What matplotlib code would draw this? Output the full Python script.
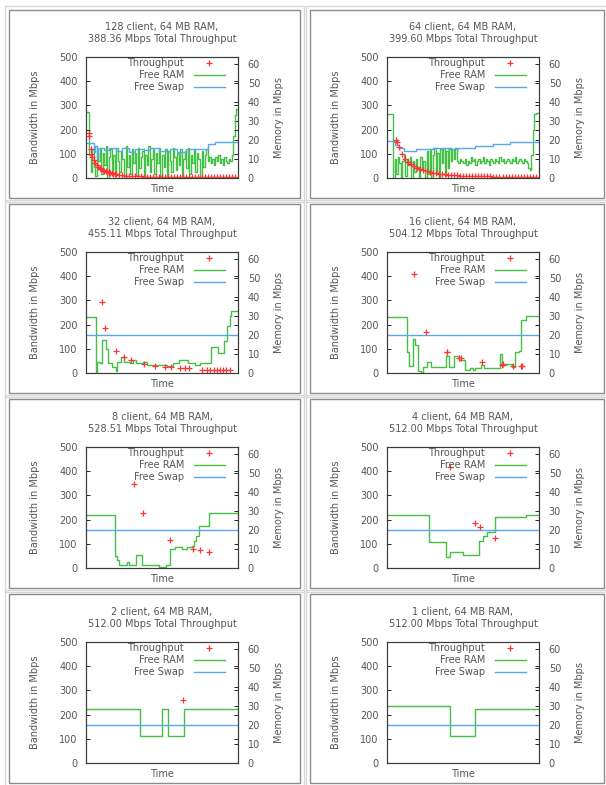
import numpy as np
import matplotlib
matplotlib.use("Agg")
import matplotlib.pyplot as plt
from matplotlib.patches import Rectangle

# ── data ──────────────────────────────────────────────────────────────────────
CLIENTS    = [128, 64, 32, 16, 8, 4, 2, 1]
TOTAL_MBPS = ["388.36", "399.60", "455.11", "504.12", "528.51", "512.00", "512.00", "512.00"]

# 128 clients: free RAM sampled once per time step (MB)
RAM_128 = [34.5, 34.5, 12, 3, 15, 6, 1, 14, 9, 16,
           2, 13, 7, 17, 0, 11, 15, 4, 12, 1,
           16, 9, 3, 14, 10, 0, 17, 6, 12, 2,
           15, 8, 13, 1, 16, 5, 11, 14, 0, 12,
           7, 17, 3, 10, 15, 2, 13, 8, 16, 1,
           12, 6, 15, 0, 14, 9, 3, 16, 11, 4,
           13, 7, 15, 1, 10, 14, 5, 16, 2, 12,
           8, 15, 3, 13, 10, 0, 14, 6, 12, 15,
           9, 11, 8, 10, 7, 11, 9, 12, 8, 10,
           7, 11, 9, 8, 10, 9, 12, 22, 33, 36,
           36]
SWAP_128_T = [0, 5, 6, 7, 8, 12, 15, 20, 24, 28, 32, 38, 42, 48, 55, 60, 66, 72, 80, 85, 100]
SWAP_128_V = [18.6, 13.5, 17, 11, 16, 14.5, 15.5, 14, 15.5, 13.5, 15, 14.5, 15.5, 14, 15,
              13.8, 15.2, 15, 17.8, 18.7, 18.7]
THR_128_T = [2.2, 2.2, 3, 3.5, 4,
             5, 6, 7, 8, 9, 10, 11, 12, 13, 14, 15, 16, 17, 18, 19, 20,
             22, 24, 26, 28, 30, 32, 34, 36, 38, 40, 42, 44, 46, 48, 50, 52, 54, 56, 58, 60,
             62, 64, 66, 68, 70, 72, 74, 76, 78, 80, 82, 84, 86, 88, 90, 92, 94, 96, 98]
THR_128_V = [186, 172, 120, 98, 88,
             76, 62, 54, 47, 41, 37, 33, 30, 28, 26, 24, 22, 20, 18, 17, 16,
             14, 12, 10, 9, 8, 8, 7, 7, 6, 6, 6, 5, 5, 5, 5, 5, 5, 5, 5, 4,
             4, 4, 4, 4, 4, 4, 4, 4, 4, 4, 4, 4, 4, 4, 4, 4, 4, 4, 4]

# 64 clients
RAM_64 = [33.5, 33.5, 33.5, 33.5, 0, 10, 2, 11, 8, 0,
          9, 12, 1, 10, 7, 11, 0, 9, 3, 10,
          6, 0, 11, 4, 9, 0, 14, 2, 15, 0,
          12, 16, 3, 13, 0, 15, 8, 16, 1, 14,
          5, 16, 9, 15, 10, 16, 9, 8, 10, 9,
          8, 10, 7, 9, 8, 11, 9, 10, 7, 9,
          10, 8, 9, 11, 8, 10, 9, 7, 10, 9,
          8, 10, 9, 8, 11, 9, 10, 8, 9, 10,
          9, 8, 10, 9, 11, 8, 9, 10, 9, 8,
          10, 9, 8, 5, 4, 12, 25, 33.5, 34, 34,
          34]
SWAP_64_T = [0, 5, 8, 11, 19, 30, 40, 47, 58, 70, 81, 100]
SWAP_64_V = [19.3, 17.5, 16, 14, 15, 16, 15, 16, 17, 17.9, 18.7, 18.7]
THR_64_T = [6, 6.5, 8, 10, 12, 14, 16, 18, 20, 22, 24, 26, 28, 30, 32, 34, 36, 38, 40, 42,
            44, 46, 48, 50, 52, 54, 56, 58, 60, 62, 64, 66, 68, 70, 72, 74, 76, 78, 80, 82,
            84, 86, 88, 90, 92, 94, 96, 98]
THR_64_V = [158, 149, 128, 100, 80, 66, 56, 48, 42, 36, 32, 28, 25, 22, 20, 18, 16, 15, 14, 13,
            12, 11, 10, 10, 9, 9, 8, 8, 8, 7, 7, 7, 7, 6, 6, 6, 6, 6, 6, 5,
            5, 5, 5, 5, 5, 5, 5, 5]

# 32 clients (free RAM given as step change times)
RAM_32_T = [0, 6.6, 7.3, 9, 10.5, 13, 14.5, 17, 19.5, 20.5, 23, 25, 29, 31, 33,
            37.5, 40, 53, 57, 61, 67, 71.5, 75, 82, 87, 91, 92.5, 94.5, 95.5, 100]
RAM_32_V = [29.5, 0, 6, 5, 17.5, 12.7, 5, 3, 1, 5.7, 8.3, 6, 5, 7, 5,
            6, 4.3, 3.5, 5, 6.6, 5, 4, 5.5, 13.5, 10.4, 17, 24.8, 30, 32.6, 32.6]
THR_32_T = [10.4, 12.6, 19.8, 24.7, 29.7, 37.9, 45.6, 52.2, 56, 62.1, 65.4, 67.6,
            76.4, 79.7, 81.9, 84, 86, 88, 90, 92, 94.5]
THR_32_V = [293, 186, 90, 66, 52, 39, 29, 25, 25, 21, 21, 21,
            14, 14, 14, 14, 14, 14, 14, 14, 14]

# 16 clients
RAM_16_T = [0, 13.3, 14.4, 17, 18.5, 20.3, 22.5, 24, 26.2, 29, 38.9, 41, 44.3, 47.6, 51.3,
            54.6, 56.3, 58, 61.6, 63.5, 74.2, 75.5, 78.4, 82.5, 84, 86.9, 88.4, 91.7, 100]
RAM_16_V = [29.5, 10.8, 3.8, 17.7, 14.8, 1.2, 0, 3, 5.6, 3, 9, 3, 9, 6.9, 1.5,
            2.5, 1.5, 2.5, 4, 2.5, 10.2, 4, 4.7, 3, 10.8, 11.6, 28, 30, 30]
THR_16_T = [17.5, 25.8, 39.3, 39.8, 47.2, 48.5, 62.4, 75.5, 76, 83, 88, 88.5]
THR_16_V = [410, 169, 85, 88, 64, 62, 44, 34, 36, 30, 27, 28]

# 8 clients
RAM_8_T = [0, 19.2, 20.7, 22, 26.9, 28.6, 33, 36.8, 47.8, 52.6,
           55.5, 58.8, 63.2, 66.5, 69.8, 71.3, 72.6, 74.4, 80.8, 100]
RAM_8_V = [28, 6.1, 4, 1.7, 3.1, 1.7, 6.9, 1.7, 0.5, 1.7,
           10, 11, 10, 11, 11.8, 14, 17, 21.9, 29, 29]
THR_8_T = [31.3, 37.4, 55.5, 70.5, 74.7, 80.8]
THR_8_V = [346, 229, 117, 80, 73, 66]

# 4 clients
RAM_4_T = [0, 27.5, 38.9, 41.7, 50.2, 60.7, 62.9, 65.5, 71, 91.7, 100]
RAM_4_V = [27.8, 13.9, 5.6, 8.2, 6.8, 14.2, 16.8, 18.9, 26.6, 27.8, 27.8]
THR_4_T = [41.5, 58, 61.4, 71]
THR_4_V = [416, 186, 171, 126]

# 2 clients
RAM_2_T = [0, 35.7, 50, 54, 64.3, 100]
RAM_2_V = [28.3, 14.2, 28.3, 14.2, 28.3, 28.3]
THR_2_T = [64]
THR_2_V = [262]

# 1 client
RAM_1_T = [0, 41.7, 58, 100]
RAM_1_V = [29.9, 14.2, 28.1, 28.1]
THR_1_T = []
THR_1_V = []

# free swap is flat for the smaller runs
SWAP_FLAT_T = [0, 100]
SWAP_FLAT_V = [19.7, 19.7]

PANELS = [
    (None,     RAM_128,  SWAP_128_T,  SWAP_128_V,  THR_128_T, THR_128_V),
    (None,     RAM_64,   SWAP_64_T,   SWAP_64_V,   THR_64_T,  THR_64_V),
    (RAM_32_T, RAM_32_V, SWAP_FLAT_T, SWAP_FLAT_V, THR_32_T,  THR_32_V),
    (RAM_16_T, RAM_16_V, SWAP_FLAT_T, SWAP_FLAT_V, THR_16_T,  THR_16_V),
    (RAM_8_T,  RAM_8_V,  SWAP_FLAT_T, SWAP_FLAT_V, THR_8_T,   THR_8_V),
    (RAM_4_T,  RAM_4_V,  SWAP_FLAT_T, SWAP_FLAT_V, THR_4_T,   THR_4_V),
    (RAM_2_T,  RAM_2_V,  SWAP_FLAT_T, SWAP_FLAT_V, THR_2_T,   THR_2_V),
    (RAM_1_T,  RAM_1_V,  SWAP_FLAT_T, SWAP_FLAT_V, THR_1_T,   THR_1_V),
]

# ── style / layout ────────────────────────────────────────────────────────────
W, H = 606, 785
RED, GREEN, BLUE = "#ff3333", "#44c144", "#55a8f0"
TXT = "#555555"
FS = 7

COL_X    = [86, 387]
ROW_TOP  = [57, 252, 447, 642]
PLOT_W, PLOT_H = 152, 121
CELL_X   = [(9, 300), (310, 604)]
CELL_Y   = [(10, 198), (204, 393), (399, 588), (594, 783)]

plt.rcParams["font.family"] = ["DejaVu Sans"]


def fig_rect(x0, y0, w, h):
    return [x0 / W, 1 - (y0 + h) / H, w / W, h / H]


def draw_legend(ax):
    rows = [("Throughput", 0.95), ("Free RAM", 0.85), ("Free Swap", 0.75)]
    for label, y in rows:
        ax.text(0.645, y, label, transform=ax.transAxes, ha="right", va="center",
                fontsize=FS, color=TXT)
    ax.plot([0.81], [0.95], "+", color=RED, ms=4, mew=0.9,
            transform=ax.transAxes, clip_on=False)
    ax.plot([0.71, 0.915], [0.85, 0.85], color=GREEN, lw=1.0,
            transform=ax.transAxes, clip_on=False)
    ax.plot([0.71, 0.915], [0.75, 0.75], color=BLUE, lw=1.0,
            transform=ax.transAxes, clip_on=False)


def main():
    fig = plt.figure(figsize=(W / 100, H / 100), dpi=100)
    fig.patch.set_facecolor("white")

    # table-like cell frames
    for (y0, y1) in CELL_Y:
        for (x0, x1) in CELL_X:
            fig.add_artist(Rectangle(((x0 - 4) / W, 1 - (y1 + 4) / H), (x1 - x0 + 8) / W,
                                     (y1 - y0 + 8) / H, transform=fig.transFigure,
                                     fill=False, ec="#d8d8d8", lw=1.0))
            fig.add_artist(Rectangle((x0 / W, 1 - y1 / H), (x1 - x0) / W, (y1 - y0) / H,
                                     transform=fig.transFigure, fill=False,
                                     ec="#8c8c8c", lw=1.0))

    for i, (ram_t, ram_v, sw_t, sw_v, thr_t, thr_v) in enumerate(PANELS):
        r, c = divmod(i, 2)
        ax = fig.add_axes(fig_rect(COL_X[c], ROW_TOP[r], PLOT_W, PLOT_H))
        ax2 = ax.twinx()
        ax.set_zorder(ax2.get_zorder() + 1)
        ax.patch.set_visible(False)

        if ram_t is None:
            ram_t = np.arange(len(ram_v))
        ax2.plot(ram_t, ram_v, color=GREEN, lw=1.0, drawstyle="steps-post")
        ax2.plot(sw_t, sw_v, color=BLUE, lw=1.0, drawstyle="steps-post")
        ax.plot(thr_t, thr_v, "+", color=RED, ms=4, mew=0.9, ls="none")

        ax.set_xlim(0, 100)
        ax.set_ylim(0, 500)
        ax2.set_ylim(0, 63.5)
        ax.set_xticks([])
        ax.set_yticks(range(0, 501, 100))
        ax2.set_yticks(range(0, 61, 10))

        ax.tick_params(axis="y", direction="in", length=3, width=0.6, right=True,
                       labelsize=FS, labelcolor=TXT, pad=6)
        ax2.tick_params(axis="y", direction="in", length=3, width=0.6,
                        labelsize=FS, labelcolor=TXT, pad=7)
        for a in (ax, ax2):
            for s in a.spines.values():
                s.set_color("#3a3a3a")
                s.set_linewidth(0.8)

        ax.set_ylabel("Bandwidth in Mbps", fontsize=FS, color=TXT)
        ax.yaxis.set_label_coords(-0.30, 0.5)
        ax2.set_ylabel("Memory in Mbps", fontsize=FS, color=TXT)
        ax2.yaxis.set_label_coords(1.24, 0.5)
        ax.set_xlabel("Time", fontsize=FS, color=TXT)
        ax.xaxis.set_label_coords(0.5, -0.05)

        title = f"{CLIENTS[i]} client, 64 MB RAM,\n{TOTAL_MBPS[i]} Mbps Total Throughput"
        ax.text(0.5, 1.11, title, transform=ax.transAxes, ha="center", va="bottom",
                fontsize=FS, color=TXT, linespacing=1.25)

        draw_legend(ax)

    fig.savefig("out.png", dpi=100)


if __name__ == "__main__":
    main()
